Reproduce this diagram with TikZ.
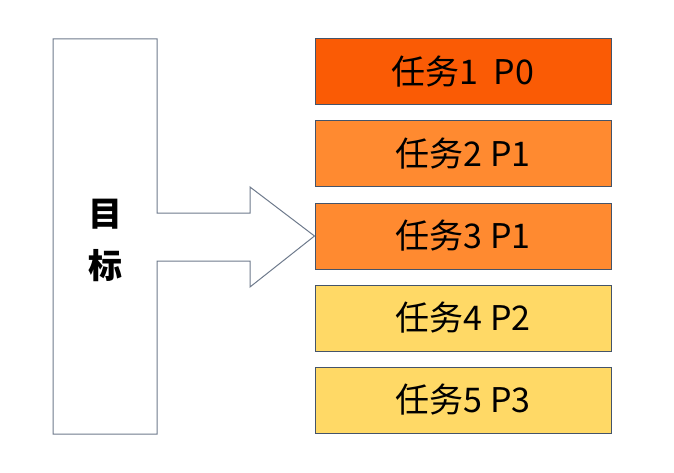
\documentclass[tikz,border=0pt]{standalone}
\usepackage{fontspec}
\setmainfont{Noto Sans CJK SC}
\begin{document}
\begin{tikzpicture}[x=1pt,y=-1pt,
  task/.style={draw=boxline,line width=1pt,minimum width=296pt,minimum height=66pt,inner sep=0pt,
    font=\fontsize{34}{37}\selectfont},
  goalshape/.style={draw=shapeline,line width=1pt,fill=white,line join=miter}]
\definecolor{boxline}{HTML}{44546A}
\definecolor{shapeline}{HTML}{6E7A8C}
\definecolor{pzero}{HTML}{FA5B05}
\definecolor{pone}{HTML}{FF8A30}
\definecolor{ptwo}{HTML}{FFD966}
\useasboundingbox (0,0) rectangle (674,473);
\node[task,fill=pzero] (t1) at (463,72) {任务1~~P0};
\node[task,fill=pone] (t2) at (463,154) {任务2 P1};
\node[task,fill=pone] (t3) at (463,236) {任务3 P1};
\node[task,fill=ptwo] (t4) at (463,318) {任务4 P2};
\node[task,fill=ptwo] (t5) at (463,400) {任务5 P3};
\coordinate (tip) at (t3.west);
\draw[goalshape] (53,39) -- (157,39) -- (157,213) -- (250,213) -- (250,187)
  -- (tip) -- (250,287) -- (250,261) -- (157,261) -- (157,434) -- (53,434) -- cycle;
\node[font=\fontsize{34}{52}\selectfont\bfseries,align=center,inner sep=0pt] (goal) at (105,240) {目\\标};
\end{tikzpicture}
\end{document}
